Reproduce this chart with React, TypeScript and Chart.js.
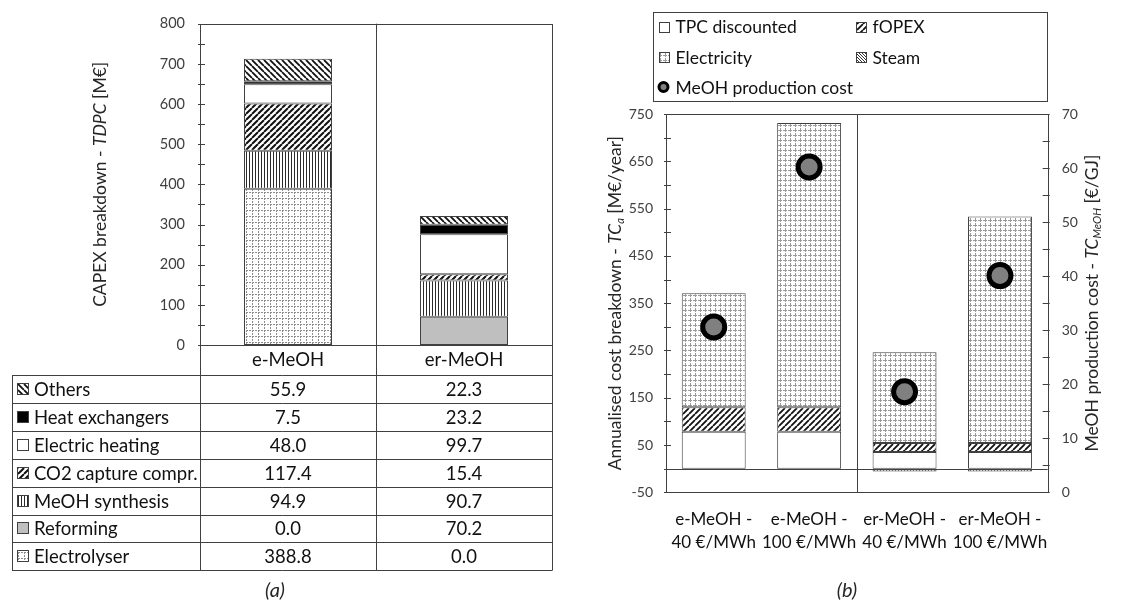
import React, { useEffect, useRef } from "react";
import { Chart, registerables } from "chart.js";

Chart.register(...registerables);

const FONT = "Lato, 'Open Sans', sans-serif";

// ---------- Panel (a): CAPEX breakdown ----------
const capexCategories = ["e-MeOH", "er-MeOH"];
const capexComponents = [
  "Electrolyser",
  "Reforming",
  "MeOH synthesis",
  "CO2 capture compr.",
  "Electric heating",
  "Heat exchangers",
  "Others",
];
const electrolyser = [388.8, 0.0];
const reforming = [0.0, 70.2];
const meohSynthesis = [94.9, 90.7];
const co2Capture = [117.4, 15.4];
const electricHeating = [48.0, 99.7];
const heatExchangers = [7.5, 23.2];
const others = [55.9, 22.3];
const capexMin = 0;
const capexMax = 800;
const capexStep = 100;

// ---------- Panel (b): annualised cost ----------
const costCategories = [
  ["e-MeOH -", "40 €/MWh"],
  ["e-MeOH -", "100 €/MWh"],
  ["er-MeOH -", "40 €/MWh"],
  ["er-MeOH -", "100 €/MWh"],
];
const costSeries = ["TPC discounted", "fOPEX", "Electricity", "Steam"];
const tpcDiscounted = [78, 78, 35, 35];
const fopex = [52, 52, 19, 19];
const electricity = [241, 601, 192, 479];
const steam = [0, 0, -6, -6];
const meohCostLabel = "MeOH production cost";
const meohCost = [30.6, 60.2, 18.6, 40.1];
const costMin = -50;
const costMax = 750;
const costStep = 100;
const prodMin = 0;
const prodMax = 70;
const prodStep = 10;

type Seg = { t: string; italic?: boolean; sub?: boolean };

function drawRich(
  ctx: CanvasRenderingContext2D,
  segs: Seg[],
  cx: number,
  cy: number,
  size: number,
  color: string,
  rotate: boolean
) {
  ctx.save();
  ctx.translate(cx, cy);
  if (rotate) ctx.rotate(-Math.PI / 2);
  ctx.fillStyle = color;
  ctx.textBaseline = "middle";
  ctx.textAlign = "left";
  const fontFor = (s: Seg) =>
    `${s.italic ? "italic " : ""}${s.sub ? Math.round(size * 0.62) : size}px ${FONT}`;
  let total = 0;
  for (const s of segs) {
    ctx.font = fontFor(s);
    total += ctx.measureText(s.t).width;
  }
  let x = -total / 2;
  for (const s of segs) {
    ctx.font = fontFor(s);
    ctx.fillText(s.t, x, s.sub ? size * 0.32 : 0);
    x += ctx.measureText(s.t).width;
  }
  ctx.restore();
}

function tile(w: number, h: number, draw: (g: CanvasRenderingContext2D) => void) {
  const c = document.createElement("canvas");
  c.width = w;
  c.height = h;
  const g = c.getContext("2d")!;
  g.fillStyle = "#ffffff";
  g.fillRect(0, 0, w, h);
  draw(g);
  return g.createPattern(c, "repeat")!;
}
const dashedGrid = (s: number, col: string) =>
  tile(s, s, (g) => {
    g.fillStyle = col;
    for (let i = 0; i < s; i++) {
      if (i % 3 === 2) continue;
      g.fillRect(i, 0, 1, 1);
      g.fillRect(0, i, 1, 1);
    }
  });
const vLines = () =>
  tile(3, 3, (g) => {
    g.fillStyle = "#2a2a2a";
    g.fillRect(0, 0, 1, 3);
  });
const diag = (s: number, lw: number, dir: "/" | "\\", col: string) =>
  tile(s, s, (g) => {
    g.strokeStyle = col;
    g.lineWidth = lw;
    g.beginPath();
    for (let k = -1; k <= 1; k++) {
      if (dir === "/") {
        g.moveTo(k * s, s);
        g.lineTo(k * s + s, 0);
      } else {
        g.moveTo(k * s, 0);
        g.lineTo(k * s + s, s);
      }
    }
    g.stroke();
  });

function line(ctx: CanvasRenderingContext2D, x1: number, y1: number, x2: number, y2: number) {
  ctx.beginPath();
  ctx.moveTo(x1, y1);
  ctx.lineTo(x2, y2);
  ctx.stroke();
}
const px = (v: number) => Math.round(v) + 0.5;

export default function App() {
  const leftRef = useRef<HTMLCanvasElement>(null);
  const rightRef = useRef<HTMLCanvasElement>(null);

  useEffect(() => {
    const border = "#404040";
    const capexFills: (string | CanvasPattern)[] = [
      dashedGrid(6, "#8c8c8c"),
      "#bfbfbf",
      vLines(),
      diag(6, 2, "/", "#111"),
      "#ffffff",
      "#000000",
      diag(6, 1.8, "\\", "#111"),
    ];
    const capexValues = [
      electrolyser,
      reforming,
      meohSynthesis,
      co2Capture,
      electricHeating,
      heatExchangers,
      others,
    ];

    const capexPlugin = {
      id: "capexDecor",
      afterDraw(chart: any) {
        const { ctx, chartArea: a, scales } = chart;
        const x = scales.x;
        const y = scales.y;
        const mid = (x.getPixelForValue(0) + x.getPixelForValue(1)) / 2;
        const headerH = 30;
        const rowH = 27.9;
        const tableLeft = 12;
        const tableTop = a.bottom + headerH;
        const rows = chart.data.datasets.slice().reverse();
        const tableBottom = tableTop + rows.length * rowH;
        ctx.save();
        ctx.strokeStyle = border;
        ctx.lineWidth = 1;
        ctx.strokeRect(px(a.left), px(a.top), Math.round(a.right - a.left), Math.round(a.bottom - a.top));
        line(ctx, px(a.left), a.bottom, px(a.left), tableBottom);
        line(ctx, px(a.right), a.bottom, px(a.right), tableBottom);
        line(ctx, px(mid), a.top, px(mid), tableBottom);
        line(ctx, px(tableLeft), tableTop, px(tableLeft), tableBottom);
        for (let i = 0; i <= rows.length; i++) {
          const yy = px(tableTop + i * rowH);
          line(ctx, tableLeft, yy, a.right + 0.5, yy);
        }
        for (let v = capexMin; v <= capexMax; v += capexStep / 2) {
          const yy = px(y.getPixelForValue(v));
          line(ctx, a.left - 2, yy, a.left + 5, yy);
        }
        ctx.font = `18.5px ${FONT}`;
        ctx.textBaseline = "middle";
        rows.forEach((ds: any, i: number) => {
          const cy = tableTop + i * rowH + rowH / 2;
          ctx.fillStyle = ds.backgroundColor;
          ctx.fillRect(17, Math.round(cy - 6), 11, 11);
          ctx.strokeStyle = border;
          ctx.strokeRect(17.5, Math.round(cy - 6) + 0.5, 11, 11);
          ctx.fillStyle = "#111";
          ctx.textAlign = "left";
          ctx.fillText(ds.label, 34, cy + 1);
          ctx.textAlign = "center";
          ds.data.forEach((v: number, j: number) => {
            ctx.fillText(v.toFixed(1), x.getPixelForValue(j), cy + 1);
          });
        });
        drawRich(
          ctx,
          [{ t: "CAPEX breakdown - " }, { t: "TDPC", italic: true }, { t: " [M€]" }],
          100,
          (a.top + a.bottom) / 2,
          17.5,
          "#262626",
          true
        );
        drawRich(ctx, [{ t: "(a)", italic: true }], 275, 591, 20, "#262626", false);
        ctx.restore();
      },
    };

    const leftChart = new Chart(leftRef.current!, {
      type: "bar",
      data: {
        labels: capexCategories,
        datasets: capexComponents.map((name, i) => ({
          label: name,
          data: capexValues[i],
          backgroundColor: capexFills[i] as any,
          borderColor: border,
          borderWidth: 1,
          borderSkipped: false,
          barPercentage: 0.5,
          categoryPercentage: 1,
        })),
      },
      options: {
        animation: false,
        responsive: false,
        maintainAspectRatio: false,
        layout: { padding: { top: 21, right: 23, left: 0, bottom: 0 } },
        plugins: { legend: { display: false }, tooltip: { enabled: false } },
        scales: {
          x: {
            stacked: true,
            grid: { display: false, drawTicks: false },
            border: { display: false },
            ticks: { font: { family: FONT, size: 18.5 }, color: "#111", padding: 4 },
            afterFit: (s: any) => {
              s.height = 260;
            },
          },
          y: {
            stacked: true,
            min: capexMin,
            max: capexMax,
            grid: { display: false, drawTicks: false },
            border: { display: false },
            ticks: { stepSize: capexStep, font: { family: FONT, size: 14.5 }, color: "#404040", padding: 15 },
            afterFit: (s: any) => {
              s.width = 200;
            },
          },
        },
      },
      plugins: [capexPlugin],
    } as any);

    // ---------- right chart ----------
    const costFills: (string | CanvasPattern)[] = [
      "#ffffff",
      diag(6, 1.8, "/", "#111"),
      dashedGrid(5, "#9a9a9a"),
      diag(3, 1, "\\", "#333"),
    ];
    const costValues = [tpcDiscounted, fopex, electricity, steam];

    const costPlugin = {
      id: "costDecor",
      afterDraw(chart: any) {
        const { ctx, chartArea: a, scales } = chart;
        const x = scales.x;
        const y = scales.y;
        const y1 = scales.y1;
        ctx.save();
        ctx.strokeStyle = border;
        ctx.lineWidth = 1;
        ctx.strokeRect(px(a.left), px(a.top), Math.round(a.right - a.left), Math.round(a.bottom - a.top));
        const mid = (x.getPixelForValue(1) + x.getPixelForValue(2)) / 2;
        line(ctx, px(mid), a.top, px(mid), a.bottom);
        const zy = px(y.getPixelForValue(0));
        line(ctx, a.left, zy, a.right, zy);
        for (let v = costMin; v <= costMax; v += costStep / 2) {
          const yy = px(y.getPixelForValue(v));
          line(ctx, a.left - 2, yy, a.left + 5, yy);
        }
        for (let v = prodMin; v <= prodMax; v += prodStep / 2) {
          const yy = px(y1.getPixelForValue(v));
          line(ctx, a.right - 5, yy, a.right + 2, yy);
        }
        // legend box
        const bx = 78;
        const by = 12;
        const bw = 394;
        const bh = 89;
        ctx.strokeRect(px(bx), px(by), bw, bh);
        ctx.font = `17.5px ${FONT}`;
        ctx.textBaseline = "middle";
        ctx.textAlign = "left";
        const items = chart.data.datasets;
        const colX = [bx + 6, bx + 203];
        const rowY = (r: number) => by + 14.7 + r * 30.2;
        items.forEach((ds: any, i: number) => {
          const r = Math.floor(i / 2);
          const cx = ds.type === "line" ? colX[0] : colX[i % 2];
          const cy = rowY(r);
          if (ds.type === "line") {
            ctx.beginPath();
            ctx.arc(cx + 4.5, cy, 4.5, 0, Math.PI * 2);
            ctx.fillStyle = "#808080";
            ctx.fill();
            ctx.lineWidth = 3;
            ctx.strokeStyle = "#000";
            ctx.stroke();
            ctx.lineWidth = 1;
          } else {
            ctx.fillStyle = ds.backgroundColor;
            ctx.fillRect(Math.round(cx), Math.round(cy - 5), 10, 10);
            ctx.strokeStyle = border;
            ctx.strokeRect(Math.round(cx) + 0.5, Math.round(cy - 5) + 0.5, 10, 10);
          }
          ctx.fillStyle = "#111";
          ctx.fillText(ds.label, cx + 16.5, cy + 1);
        });
        drawRich(
          ctx,
          [
            { t: "Annualised cost breakdown - " },
            { t: "TC", italic: true },
            { t: "a", italic: true, sub: true },
            { t: " [M€/year]" },
          ],
          40,
          (a.top + a.bottom) / 2,
          17.5,
          "#262626",
          true
        );
        drawRich(
          ctx,
          [
            { t: "MeOH production cost - " },
            { t: "TC", italic: true },
            { t: "MeOH", italic: true, sub: true },
            { t: " [€/GJ]" },
          ],
          517,
          (a.top + a.bottom) / 2,
          17.5,
          "#262626",
          true
        );
        drawRich(ctx, [{ t: "(b)", italic: true }], 272, 591, 20, "#262626", false);
        ctx.restore();
      },
    };

    const rightChart = new Chart(rightRef.current!, {
      type: "bar",
      data: {
        labels: costCategories,
        datasets: [
          ...costSeries.map((name, i) => ({
            type: "bar",
            label: name,
            data: costValues[i],
            backgroundColor: costFills[i] as any,
            borderColor: border,
            borderWidth: 1,
            borderSkipped: false,
            barPercentage: 0.67,
            categoryPercentage: 1,
            yAxisID: "y",
            order: 1,
          })),
          {
            type: "line",
            label: meohCostLabel,
            data: meohCost,
            yAxisID: "y1",
            showLine: false,
            pointRadius: 11,
            pointBorderWidth: 5,
            pointBackgroundColor: "#808080",
            pointBorderColor: "#000",
            backgroundColor: "#808080",
            borderColor: "#000",
            order: 0,
          },
        ],
      },
      options: {
        animation: false,
        responsive: false,
        maintainAspectRatio: false,
        layout: { padding: { top: 114, right: 0, left: 0, bottom: 0 } },
        plugins: { legend: { display: false }, tooltip: { enabled: false } },
        scales: {
          x: {
            stacked: true,
            grid: { display: false, drawTicks: false },
            border: { display: false },
            ticks: {
              font: { family: FONT, size: 17, lineHeight: 1.36 },
              color: "#111",
              padding: 16,
              maxRotation: 0,
              autoSkip: false,
            },
            afterFit: (s: any) => {
              s.height = 112.7;
            },
          },
          y: {
            stacked: true,
            min: costMin,
            max: costMax,
            position: "left",
            grid: { display: false, drawTicks: false },
            border: { display: false },
            ticks: { stepSize: costStep, font: { family: FONT, size: 14 }, color: "#404040", padding: 13 },
            afterFit: (s: any) => {
              s.width = 91;
            },
          },
          y1: {
            min: prodMin,
            max: prodMax,
            position: "right",
            grid: { display: false, drawTicks: false },
            border: { display: false },
            ticks: { stepSize: prodStep, font: { family: FONT, size: 14 }, color: "#404040", padding: 14 },
            afterFit: (s: any) => {
              s.width = 83.3;
            },
          },
        },
      },
      plugins: [costPlugin],
    } as any);

    return () => {
      leftChart.destroy();
      rightChart.destroy();
    };
  }, []);

  return (
    <div
      style={{
        position: "absolute",
        left: 0,
        top: 0,
        width: 1131,
        height: 605,
        background: "#ffffff",
        overflow: "hidden",
      }}
    >
      <canvas
        ref={leftRef}
        width={575}
        height={605}
        style={{ position: "absolute", left: 0, top: 0, width: 575, height: 605 }}
      />
      <canvas
        ref={rightRef}
        width={556}
        height={605}
        style={{ position: "absolute", left: 575, top: 0, width: 556, height: 605 }}
      />
    </div>
  );
}
